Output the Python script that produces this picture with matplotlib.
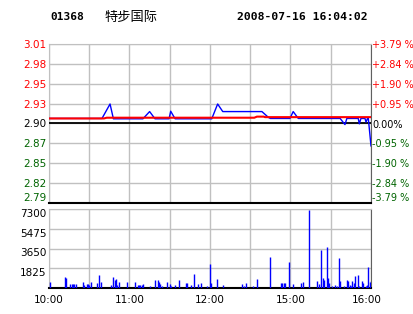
import matplotlib
matplotlib.use('Agg')
import matplotlib.pyplot as plt
import matplotlib.transforms as mtransforms

# 分时数据 (分钟序号: 0 = 10:00, 150 = 12:30/14:30, 240 = 16:00)
price_min = [0, 39.5, 45.5, 48, 70, 75, 79, 89.5, 90.7, 94, 121.3, 125.7, 129.5, 158.7,
             163.5, 165, 179.6, 182, 185.8, 217, 220.6, 222, 230.5, 231.3, 232.5,
             235.5, 236.3, 237.4, 238, 240]
price_val = [2.907, 2.907, 2.927, 2.9065, 2.9065, 2.9165, 2.9065, 2.9065, 2.917, 2.9065,
             2.9065, 2.927, 2.9165, 2.9165, 2.9085, 2.907, 2.907, 2.9165, 2.907, 2.907,
             2.8985, 2.907, 2.907, 2.8995, 2.907, 2.907, 2.902, 2.907, 2.907, 2.869]
avg_min = [0, 41, 43, 153, 155, 160, 161, 240]
avg_val = [2.907, 2.907, 2.908, 2.908, 2.9095, 2.9095, 2.9088, 2.9088]

vol_min = [1, 12, 13, 16, 17, 18, 19, 20, 25, 26, 28, 29, 30, 31, 36, 37, 39, 46, 48, 49,
           50, 51, 52, 58, 64, 66, 67, 68, 69, 70, 75, 79, 81, 82, 83, 84, 88, 90, 91, 94,
           97, 102, 103, 106, 108, 111, 113, 118, 120, 121, 125, 130, 144, 145, 147, 152,
           155, 165, 173, 174, 175, 176, 179, 182, 188, 189, 194, 200, 201, 203, 204, 205,
           207, 208, 209, 211, 213, 215, 216, 217, 220, 222, 223, 224, 225, 226, 227, 228,
           230, 231, 233, 234, 236, 237, 238, 239, 240]
vol_val = [600, 990, 930, 400, 400, 400, 400, 400, 600, 300, 350, 400, 300, 600, 500, 1235,
           600, 280, 1050, 700, 830, 300, 520, 600, 600, 300, 300, 300, 300, 400, 220, 770,
           770, 590, 400, 220, 590, 400, 220, 310, 770, 500, 500, 310, 1330, 400, 500, 220,
           2250, 500, 870, 310, 400, 220, 500, 220, 870, 2900, 500, 500, 500, 500, 2440,
           400, 500, 590, 7170, 680, 400, 3550, 960, 770, 3830, 960, 500, 220, 310, 220,
           2810, 680, 220, 770, 680, 310, 220, 680, 500, 1140, 1235, 220, 680, 500, 220,
           310, 1980, 590, 680]

prev_close = 2.90
price_step = 0.0275
price_labels = ['2.79', '2.82', '2.85', '2.87', '2.90', '2.93', '2.95', '2.98', '3.01']
pct_labels = ['-3.79 %', '-2.84 %', '-1.90 %', '-0.95 %', '0.00%',
              '+0.95 %', '+1.90 %', '+2.84 %', '+3.79 %']
vol_ticks = [1825, 3650, 5475, 7300]
time_labels = ['10:00', '', '11:00', '', '12:00', '', '15:00', '', '16:00']

RED = '#FF0000'
GREEN = '#006400'
GRID = '#C0C0C0'

fig = plt.figure(figsize=(4.14, 3.14), dpi=100)
fig.patch.set_facecolor('white')

# 标题
fig.text(50/414, 1-17/314, '01368', fontsize=8, fontweight='bold',
         family='DejaVu Sans Mono', va='center', ha='left')
fig.text(104/414, 1-17/314, '特步国际', fontsize=9.5,
         family=['Noto Sans CJK SC', 'DejaVu Sans'], va='center', ha='left')
fig.text(237/414, 1-17/314, '2008-07-16 16:04:02', fontsize=8.2, fontweight='bold',
         family='DejaVu Sans Mono', va='center', ha='left')

# 价格图
ax = fig.add_axes([49/414, 1-203/314, 322/414, 159/314])
ticks = [prev_close + (i - 4) * price_step for i in range(9)]
ax.set_xlim(0, 240)
ax.set_ylim(ticks[0], ticks[-1])
ax.set_yticks(ticks)
ax.set_yticklabels(price_labels)
ax.set_xticks(range(0, 241, 30))
ax.set_xticklabels([])
ax.grid(True, color=GRID, lw=1)
ax.tick_params(length=0, pad=2, labelsize=7.5)
for i, lab in enumerate(ax.get_yticklabels()):
    lab.set_color(GREEN if i < 4 else ('black' if i == 4 else RED))
ax.get_yticklabels()[0].set_verticalalignment('bottom')
ax.axhline(prev_close, color='black', lw=1.3, zorder=3)
ax.plot(price_min, price_val, color='#0000FF', lw=1, zorder=4)
ax.plot(avg_min, avg_val, color=RED, lw=1.5, zorder=5)
for s in ['left', 'top']:
    ax.spines[s].set_color(GRID)
ax.spines['right'].set_color('#606060')
ax.spines['bottom'].set_color('black')
ax.spines['bottom'].set_linewidth(1.5)

ax2 = ax.twinx()
ax2.set_ylim(ticks[0], ticks[-1])
ax2.set_yticks(ticks)
ax2.set_yticklabels(pct_labels)
ax2.tick_params(length=0, pad=1, labelsize=7)
for i, lab in enumerate(ax2.get_yticklabels()):
    lab.set_color(GREEN if i < 4 else ('black' if i == 4 else RED))
ax2.get_yticklabels()[0].set_verticalalignment('bottom')
for s in ax2.spines.values():
    s.set_visible(False)

# 成交量
axv = fig.add_axes([49/414, 1-288/314, 322/414, 79/314])
axv.vlines(vol_min, 0, vol_val, colors='#0000FF', lw=1, zorder=3)
axv.set_xlim(0, 240)
axv.set_ylim(0, 7300)
axv.set_yticks(vol_ticks)
axv.set_yticklabels([str(v) for v in vol_ticks])
axv.set_xticks(range(0, 241, 30))
axv.set_xticklabels(time_labels)
axv.grid(True, color=GRID, lw=1)
axv.tick_params(length=0, pad=2, labelsize=7.5)
axv.tick_params(axis='x', pad=5)
for lab in axv.get_yticklabels():
    lab.set_verticalalignment('top')
last = axv.get_xticklabels()[-1]
last.set_transform(last.get_transform() + mtransforms.ScaledTranslation(-4/100, 0, fig.dpi_scale_trans))
for s in ['left', 'top']:
    axv.spines[s].set_color(GRID)
axv.spines['right'].set_color('#606060')
axv.spines['bottom'].set_color('black')
axv.spines['bottom'].set_linewidth(1.5)

fig.savefig('out.png', dpi=100)
